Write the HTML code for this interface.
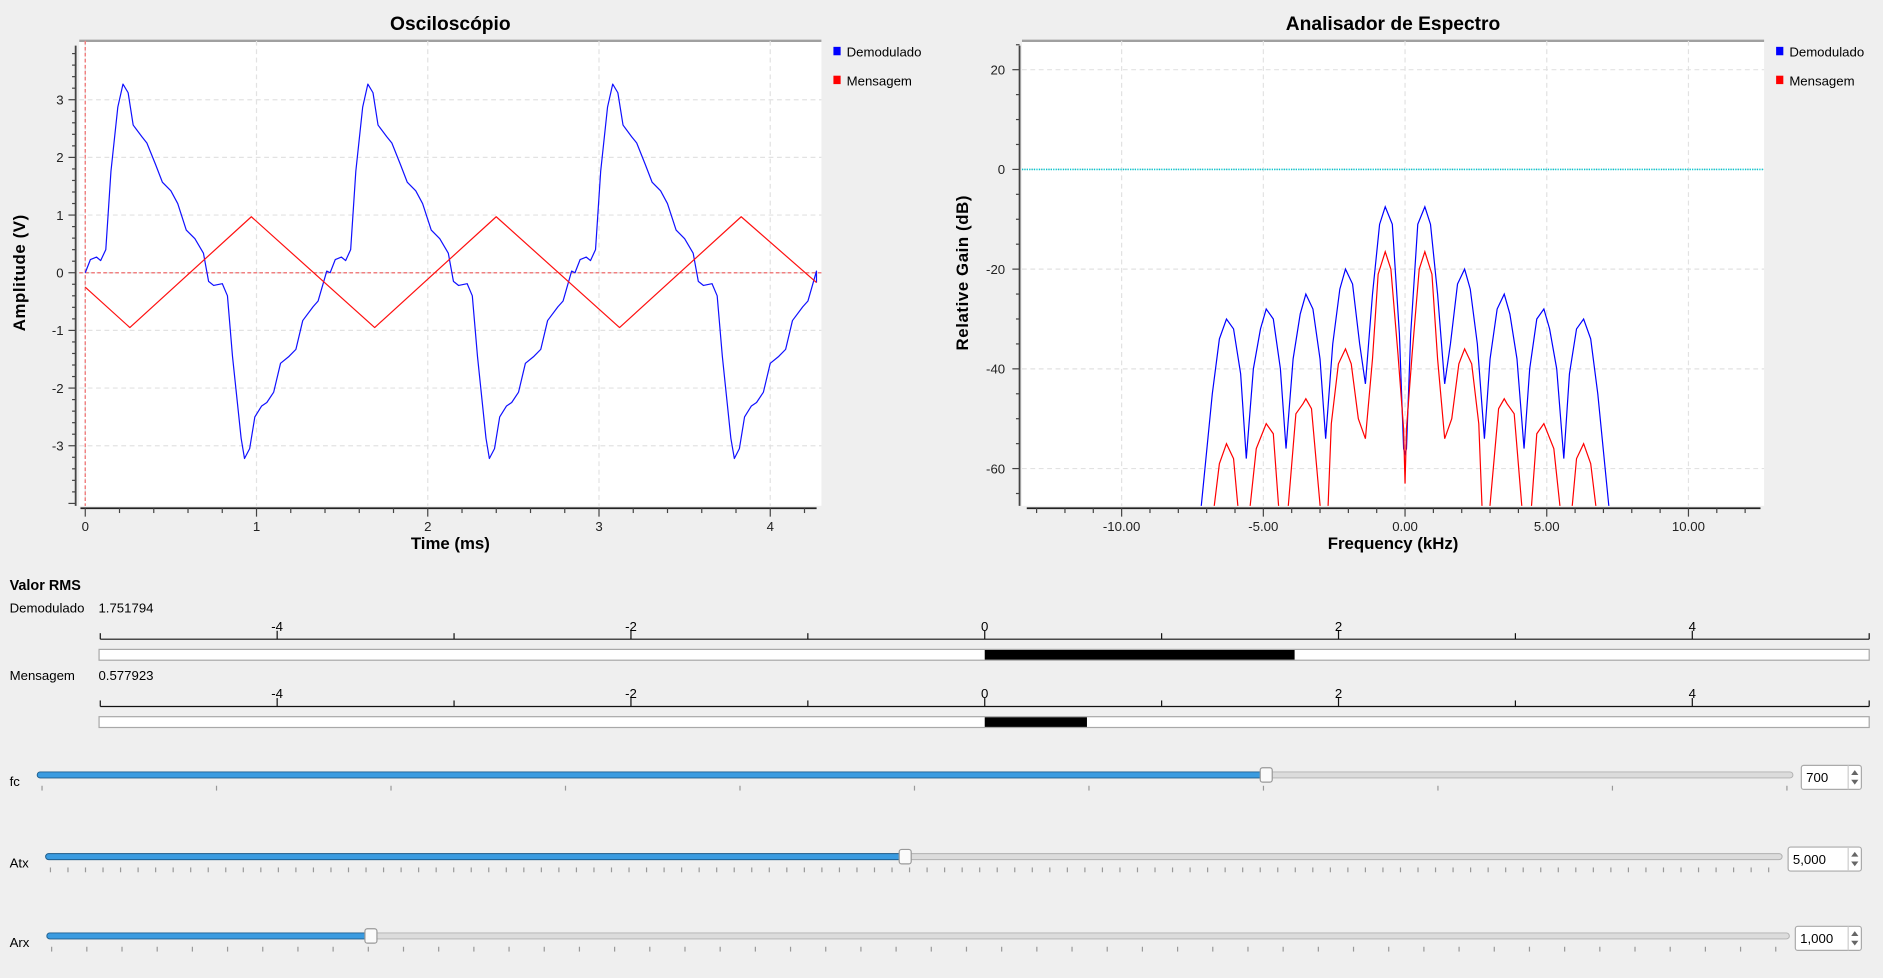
<!DOCTYPE html>
<html><head><meta charset="utf-8">
<style>
html,body{margin:0;padding:0;background:#efefef;overflow:hidden}
svg{display:block;font-family:"Liberation Sans","DejaVu Sans",sans-serif}
</style></head>
<body>
<svg id="root" width="1883" height="978" viewBox="0 0 1568 814" preserveAspectRatio="none" xmlns="http://www.w3.org/2000/svg">
<rect x="0" y="0" width="1568" height="814" fill="#efefef"/>
</svg>
<script>
// ---------- Oscilloscope data ----------
const periodT = [0,.03,.066,.09,.12,.15,.19,.22,.25,.28,.33,.36,.41,.45,.50,.54,.59,.64,.69,.72,.75,.80,.83,.86,.91,.93,.96,.99,1.03,1.06,1.1,1.14,1.19,1.23,1.27,1.33,1.36,1.41];
const periodV = [0,.23,.27,.21,.4,1.76,2.87,3.27,3.12,2.56,2.36,2.25,1.88,1.57,1.42,1.2,.74,.59,.34,-.15,-.22,-.19,-.4,-1.45,-2.87,-3.22,-3.05,-2.5,-2.31,-2.25,-2.07,-1.57,-1.45,-1.33,-.83,-.59,-.49,.03];
const periodStarts = [0, 1.43, 2.86];
const redT = [0,0.26,0.97,1.69,2.4,3.12,3.83,4.27];
const redV = [-0.25,-0.95,0.97,-0.95,0.97,-0.95,0.97,-0.17];
const oscXTicks = [0,1,2,3,4];
const oscYTicks = [-3,-2,-1,0,1,2,3];
// ---------- Spectrum data ----------
const specBlueF = [-7.2,-6.8,-6.55,-6.3,-6.05,-5.8,-5.6,-5.35,-5.1,-4.9,-4.65,-4.4,-4.2,-3.95,-3.7,-3.5,-3.25,-3.0,-2.8,-2.55,-2.3,-2.1,-1.85,-1.6,-1.4,-1.15,-0.9,-0.7,-0.45,-0.2,-0.05,0,0.05,0.2,0.45,0.7,0.9,1.15,1.4,1.6,1.85,2.1,2.3,2.55,2.8,3.0,3.25,3.5,3.7,3.95,4.2,4.4,4.65,4.9,5.1,5.35,5.6,5.8,6.05,6.3,6.55,6.8,7.2];
const specBlueDb = [-68,-45,-34,-30,-32,-41,-58,-40,-32,-28,-30,-40,-56,-38,-29,-25,-28,-38,-54,-35,-24,-20,-23,-35,-43,-25,-11,-7.5,-11,-33,-56,-57,-56,-33,-11,-7.5,-11,-25,-43,-35,-23,-20,-24,-35,-54,-38,-28,-25,-29,-38,-56,-40,-30,-28,-32,-40,-58,-41,-32,-30,-34,-45,-68];
const specRedF = [-7.0,-6.55,-6.3,-6.05,-5.7,-5.25,-4.9,-4.65,-4.3,-3.85,-3.6,-3.5,-3.3,-2.8,-2.6,-2.35,-2.1,-1.9,-1.65,-1.4,-1.15,-0.95,-0.7,-0.5,-0.25,-0.05,0,0.05,0.25,0.5,0.7,0.95,1.15,1.4,1.65,1.9,2.1,2.35,2.6,2.8,3.3,3.5,3.6,3.85,4.3,4.65,4.9,5.25,5.7,6.05,6.3,6.55,7.0];
const specRedDb = [-80,-59,-55,-58,-80,-56,-51,-53,-80,-49,-47,-46,-48,-80,-51,-39,-36,-39,-50,-54,-38,-21,-16.5,-20,-37,-52,-63,-52,-37,-20,-16.5,-21,-38,-54,-50,-39,-36,-39,-51,-80,-48,-46,-47,-49,-80,-53,-51,-56,-80,-58,-55,-59,-80];
const specXTicks = [-10,-5,0,5,10];
const specXLabels = ["-10.00","-5.00","0.00","5.00","10.00"];
const specYTicks = [-60,-40,-20,0,20];
// ---------- RMS / controls ----------
const rmsNames = ["Demodulado","Mensagem"];
const rmsValues = [1.751794, 0.577923];
const rmsTicks = [-4,-2,0,2,4];
const sliderNames = ["fc","Atx","Arx"];
const sliderShown = ["700","5,000","1,000"];
const sliderFrac = [0.7, 0.495, 0.186];

const NS="http://www.w3.org/2000/svg";
const root=document.getElementById('root');
function mk(tag,attrs,parent,text){const e=document.createElementNS(NS,tag);for(const k in attrs)e.setAttribute(k,attrs[k]);if(text!==undefined)e.textContent=text;(parent||root).appendChild(e);return e;}

// ======== Oscilloscope ========
const oL=66,oR=684,oT=34,oB=421;
const ox=t=>71+t*142.6, oy=v=>227-v*48;
const osc=mk('g',{});


mk('rect',{x:oL,y:oT,width:oR-oL,height:oB-oT,fill:'#fff'},osc);
mk('line',{x1:oL,y1:oT,x2:oR,y2:oT,stroke:'#a0a0a0','stroke-width':2},osc);
for(const t of oscXTicks){mk('line',{x1:ox(t),y1:oT,x2:ox(t),y2:oB,stroke:'#e2e2e2','stroke-dasharray':'4,3'},osc);}
for(const v of oscYTicks){mk('line',{x1:oL,y1:oy(v),x2:oR,y2:oy(v),stroke:'#e2e2e2','stroke-dasharray':'4,3'},osc);}
// axes
mk('line',{x1:63,y1:38,x2:63,y2:421,stroke:'#444','stroke-width':1.5},osc);
mk('line',{x1:67,y1:423,x2:680,y2:423,stroke:'#222','stroke-width':1.5},osc);
for(let v=-4;v<=4.01;v+=0.2){const y=oy(v);if(y<36||y>420)continue;const major=Math.abs(v-Math.round(v))<0.01;mk('line',{x1:major?57:60,y1:y,x2:63,y2:y,stroke:'#444'},osc);}
for(let t=0;t<=4.3;t+=0.2){const x=ox(t);const major=Math.abs(t-Math.round(t))<0.01;mk('line',{x1:x,y1:423,x2:x,y2:major?430:427,stroke:'#444'},osc);}
for(const v of oscYTicks){const e=mk('text',{x:53,y:oy(v)+4,'font-size':11,'text-anchor':'end',fill:'#222'},osc,String(v));}
for(const t of oscXTicks){const e=mk('text',{x:ox(t),y:442,'font-size':11,'text-anchor':'middle',fill:'#222'},osc,String(t));}
// markers
mk('line',{x1:oL,y1:oy(0),x2:oR,y2:oy(0),stroke:'#f08080','stroke-dasharray':'3,2','stroke-width':1.2},osc);
mk('line',{x1:ox(0),y1:oT,x2:ox(0),y2:oB,stroke:'#f08080','stroke-dasharray':'3,2','stroke-width':1.2},osc);
// series
let bp=[];for(const s of periodStarts){for(let i=0;i<periodT.length;i++){const t=s+periodT[i];if(t<=4.28)bp.push(ox(t).toFixed(1)+','+oy(periodV[i]).toFixed(1));}}
bp.push(ox(4.27).toFixed(1)+','+oy(-0.17).toFixed(1));
const bl=mk('polyline',{points:bp.join(' '),fill:'none',stroke:'#1010ff','stroke-width':1,'stroke-linejoin':'round'},osc);

const rl=mk('polyline',{points:redT.map((t,i)=>ox(t).toFixed(1)+','+oy(redV[i]).toFixed(1)).join(' '),fill:'none',stroke:'#ff1010','stroke-width':1,'stroke-linejoin':'round'},osc);

let e;
e=mk('text',{x:375,y:25,'font-size':16,'font-weight':'bold','text-anchor':'middle'},osc,'Osciloscópio');
e=mk('text',{x:375,y:457,'font-size':14,'font-weight':'bold','text-anchor':'middle'},osc,'Time (ms)');
e=mk('text',{x:0,y:0,'font-size':14,'font-weight':'bold','text-anchor':'middle',transform:'translate(21,227) rotate(-90)','letter-spacing':'0.5'},osc,'Amplitude (V)');
function legend(x,g,prefix){
  const a=mk('g',{},g);
  mk('rect',{x:x,y:39,width:6,height:7,fill:'#0000ff'},a);mk('text',{x:x+11,y:47,'font-size':11},a,'Demodulado');
  const b=mk('g',{},g);
  mk('rect',{x:x,y:63,width:6,height:7,fill:'#ff0000'},b);mk('text',{x:x+11,y:71,'font-size':11},b,'Mensagem');
}
legend(694,osc,'osc');

// ======== Spectrum ========
const sL=851,sR=1469,sT=34,sB=421;
const sx=f=>1170+f*23.6, sy=d=>141-d*4.15;
const sp=mk('g',{});


mk('defs',{},sp).innerHTML='<clipPath id="sclip"><rect x="851" y="34" width="618" height="387"/></clipPath>';
mk('rect',{x:sL,y:sT,width:sR-sL,height:sB-sT,fill:'#fff'},sp);
mk('line',{x1:sL,y1:sT,x2:sR,y2:sT,stroke:'#a0a0a0','stroke-width':2},sp);
for(const f of [-10,-5,0,5,10]){mk('line',{x1:sx(f),y1:sT,x2:sx(f),y2:sB,stroke:'#e2e2e2','stroke-dasharray':'4,3'},sp);}
for(const d of specYTicks){mk('line',{x1:sL,y1:sy(d),x2:sR,y2:sy(d),stroke:'#e2e2e2','stroke-dasharray':'4,3'},sp);}
mk('line',{x1:849,y1:38,x2:849,y2:421,stroke:'#444','stroke-width':1.5},sp);
mk('line',{x1:855,y1:423,x2:1466,y2:423,stroke:'#222','stroke-width':1.5},sp);
for(let d=-65;d<=25;d+=5){const y=sy(d);if(y<36||y>420)continue;const major=d%20===0;mk('line',{x1:major?843:846,y1:y,x2:849,y2:y,stroke:'#444'},sp);}
for(let f=-13;f<=12;f++){const x=sx(f);const major=f%5===0;mk('line',{x1:x,y1:423,x2:x,y2:major?430:427,stroke:'#444'},sp);}
for(const d of specYTicks){e=mk('text',{x:837,y:sy(d)+4,'font-size':11,'text-anchor':'end',fill:'#222'},sp,String(d));}
specXTicks.forEach((f,i)=>{e=mk('text',{x:sx(f),y:442,'font-size':11,'text-anchor':'middle',fill:'#222'},sp,specXLabels[i]);});
mk('line',{x1:sL,y1:sy(0),x2:sR,y2:sy(0),stroke:'#00c8d0','stroke-dasharray':'1,1','stroke-width':1.3},sp);
const cg=mk('g',{'clip-path':'url(#sclip)'},sp);
e=mk('polyline',{points:specBlueF.map((f,i)=>sx(f).toFixed(1)+','+sy(specBlueDb[i]).toFixed(1)).join(' '),fill:'none',stroke:'#0000ff','stroke-width':1},cg);

e=mk('polyline',{points:specRedF.map((f,i)=>sx(f).toFixed(1)+','+sy(specRedDb[i]).toFixed(1)).join(' '),fill:'none',stroke:'#ff0000','stroke-width':1},cg);

e=mk('text',{x:1160,y:25,'font-size':16,'font-weight':'bold','text-anchor':'middle'},sp,'Analisador de Espectro');
e=mk('text',{x:1160,y:457,'font-size':14,'font-weight':'bold','text-anchor':'middle'},sp,'Frequency (kHz)');
e=mk('text',{x:0,y:0,'font-size':14,'font-weight':'bold','text-anchor':'middle',transform:'translate(806,227) rotate(-90)','letter-spacing':'0.5'},sp,'Relative Gain (dB)');
legend(1479,sp,'spec');

// ======== RMS ========
e=mk('text',{x:8,y:491,'font-size':12,'font-weight':'bold'},root,'Valor RMS');
const rx=v=>820+v*147.3;
rmsNames.forEach((n,i)=>{
  const base=506+i*56;
  const g=mk('g',{});
  mk('text',{x:8,y:base+4,'font-size':11},g,n);
  mk('text',{x:82,y:base+4,'font-size':11},g,rmsValues[i].toFixed(6));
  const ly=base+26;
  mk('line',{x1:rx(-5),y1:ly,x2:rx(5),y2:ly,stroke:'#111','stroke-width':1},g);
  for(let v=-5;v<=5;v++){const major=v%2===0;mk('line',{x1:rx(v),y1:ly,x2:rx(v),y2:ly-(major?7:5),stroke:'#111'},g);}
  for(const t of rmsTicks){mk('text',{x:rx(t),y:ly-7,'font-size':11,'text-anchor':'middle'},g,String(t));}
  mk('rect',{x:82.5,y:ly+8.5,width:1474,height:9,fill:'#fff',stroke:'#a8a8a8'},g);
  const bar=mk('rect',{x:rx(0),y:ly+9,width:rx(rmsValues[i])-rx(0),height:8,fill:'#000'},g);
  
});

// ======== Sliders ========
const sl=[{y:645,x0:31,x1:1493,step:145.3,box:1500},{y:713,x0:38,x1:1484,step:14.6,box:1489},{y:779,x0:39,x1:1490,step:29.3,box:1495}];
sliderNames.forEach((n,i)=>{
  const s=sl[i];
  const g=mk('g',{});
  mk('text',{x:8,y:s.y+9,'font-size':11},g,n);
  const hx=s.x0+(s.x1-s.x0)*sliderFrac[i];
  mk('rect',{x:s.x0,y:s.y-2.5,width:s.x1-s.x0,height:5,rx:2.5,fill:'#dcdcdc',stroke:'#b0b0b0','stroke-width':0.8},g);
  mk('rect',{x:s.x0,y:s.y-2.5,width:hx-s.x0,height:5,rx:2.5,fill:'#3a9be0',stroke:'#1f5f8f','stroke-width':0.8},g);
  for(let x=s.x0+4;x<=s.x1;x+=s.step){mk('line',{x1:x,y1:s.y+9,x2:x,y2:s.y+13,stroke:'#999'},g);}
  const h=mk('rect',{x:hx-5,y:s.y-6,width:10,height:12,rx:2,fill:'#fafafa',stroke:'#999'},g);
  
  const b=mk('g',{},g);
  mk('rect',{x:s.box,y:s.y-8,width:1550-s.box,height:20,rx:2,fill:'#fff',stroke:'#aaa'},b);
  mk('line',{x1:1539,y1:s.y-8,x2:1539,y2:s.y+12,stroke:'#ccc'},b);
  mk('text',{x:s.box+4,y:s.y+6,'font-size':11},b,sliderShown[i]);
  mk('path',{d:`M1541.5 ${s.y} l3 -4 l3 4 z M1541.5 ${s.y+4} l3 4 l3 -4 z`,fill:'#666'},b);
});
</script>
</body></html>
